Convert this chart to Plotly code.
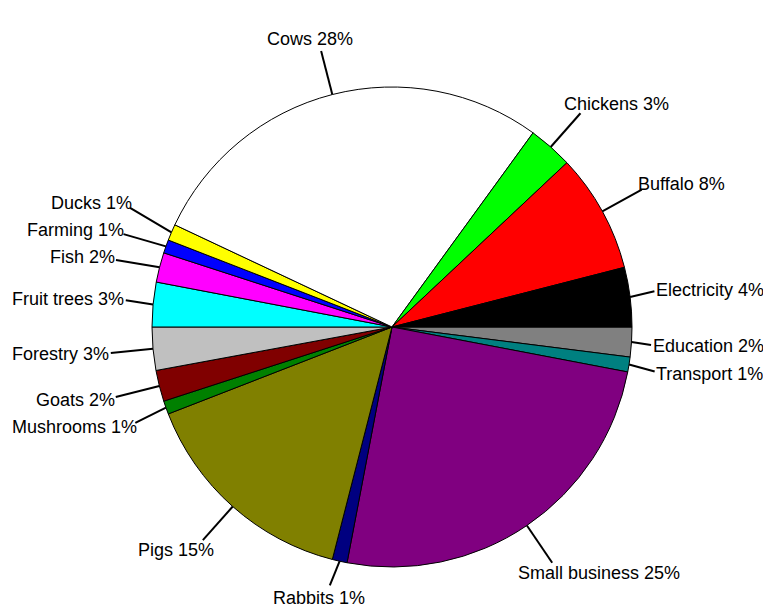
import math
import plotly.graph_objects as go

# slices, clockwise from 3 o'clock
labels = ["Education", "Transport", "Small business", "Rabbits", "Pigs", "Mushrooms",
          "Goats", "Forestry", "Fruit trees", "Fish", "Farming", "Ducks",
          "Cows", "Chickens", "Buffalo", "Electricity"]
values = [2.0, 1.0, 25.0, 1.0, 15.1, 0.9,
          2.1, 2.9, 3.0, 2.0, 0.9, 1.1,
          28.0, 3.0, 8.0, 4.0]
colors = ["#808080", "#008080", "#800080", "#000080", "#808000", "#008000",
          "#800000", "#C0C0C0", "#00FFFF", "#FF00FF", "#0000FF", "#FFFF00",
          "#FFFFFF", "#00FF00", "#FF0000", "#000000"]

W, H = 771, 610
OFF = 8                        # page body margin the figure sits in
CX, CY, R = 392, 327, 240      # pie centre / radius, page pixels
LEAD = 45                      # leader line length
FS = 18                        # label font size
TH = 21                        # label text height
GAP = TH + 6

# rough Arial widths (em) for label width estimates
cw = {' ': .278, '%': .889, 'i': .222, 'l': .222, 'j': .222, 'f': .278, 't': .278, 'r': .333,
      'm': .833, 'w': .722, 'c': .5, 'k': .5, 's': .5, 'v': .5, 'x': .5, 'y': .5, 'z': .5,
      'C': .722, 'D': .722, 'R': .722, 'G': .778, 'M': .833, 'F': .611, 'T': .611}

def text_width(s):
    return sum(cw.get(ch, .556 if ch.islower() or ch.isdigit() else .667) for ch in s) * FS

def paper(px, py):
    return (px - OFF) / W, 1 - (py - OFF) / H

total = sum(values)
items = []
cum = 0
for lab, v in zip(labels, values):
    mid = -(cum + v / 2) / total * 360
    cum += v
    a = math.radians(mid)
    c, s = math.cos(a), math.sin(a)
    txt = "%s %d%%" % (lab, round(v / total * 100))
    w = text_width(txt)
    px, py = CX + R * c, CY - R * s
    ex, ey = CX + (R + LEAD) * c, CY - (R + LEAD) * s
    dx, dy = (w / 2 + 2) * c, -(TH / 2 + 2) * s
    items.append(dict(txt=txt, w=w, px=px, py=py, dx=dx, dy=dy,
                      cx=ex + dx, cy=ey + dy, right=c >= 0))

def clamp(it):
    it['cx'] = min(max(it['cx'], OFF + 4 + it['w'] / 2), W - 7 - it['w'] / 2)
    it['cy'] = min(max(it['cy'], OFF + 2 + TH / 2), H - 2 - TH / 2)

# keep labels inside the page and push overlapping ones apart vertically
for it in items:
    clamp(it)
for _ in range(300):
    moved = False
    for i in range(len(items)):
        for j in range(i + 1, len(items)):
            a, b = items[i], items[j]
            if a['right'] != b['right']:
                continue
            if abs(a['cx'] - b['cx']) > (a['w'] + b['w']) / 2:
                continue
            gap = GAP - abs(a['cy'] - b['cy'])
            if gap > 0.01:
                sgn = 1 if b['cy'] >= a['cy'] else -1
                a['cy'] -= sgn * gap / 2
                b['cy'] += sgn * gap / 2
                clamp(a)
                clamp(b)
                moved = True
    if not moved:
        break

fig = go.Figure(go.Pie(
    labels=labels,
    values=values,
    sort=False,
    direction="clockwise",
    rotation=90,
    textinfo="none",
    hoverinfo="label+percent",
    marker=dict(colors=colors, line=dict(color="black", width=1)),
    domain=dict(x=[(CX - OFF - R) / W, (CX - OFF + R) / W],
                y=[(H - (CY - OFF) - R) / H, (H - (CY - OFF) + R) / H]),
    showlegend=False,
))

shapes = []
annotations = []
for it in items:
    ex, ey = it['cx'] - it['dx'], it['cy'] - it['dy']
    x0, y0 = paper(it['px'], it['py'])
    x1, y1 = paper(ex, ey)
    shapes.append(dict(type="line", xref="paper", yref="paper", x0=x0, y0=y0, x1=x1, y1=y1,
                       line=dict(color="black", width=2)))
    ax, ay = paper(it['cx'], it['cy'])
    annotations.append(dict(x=ax, y=ay, xref="paper", yref="paper", text=it['txt'],
                            showarrow=False, xanchor="center", yanchor="middle",
                            font=dict(size=FS, color="black")))

fig.update_layout(
    width=W, height=H,
    margin=dict(l=0, r=0, t=0, b=0),
    paper_bgcolor="white",
    plot_bgcolor="white",
    font=dict(family="Liberation Sans, Arial, sans-serif"),
    shapes=shapes,
    annotations=annotations,
)

fig.write_html("out.html")
